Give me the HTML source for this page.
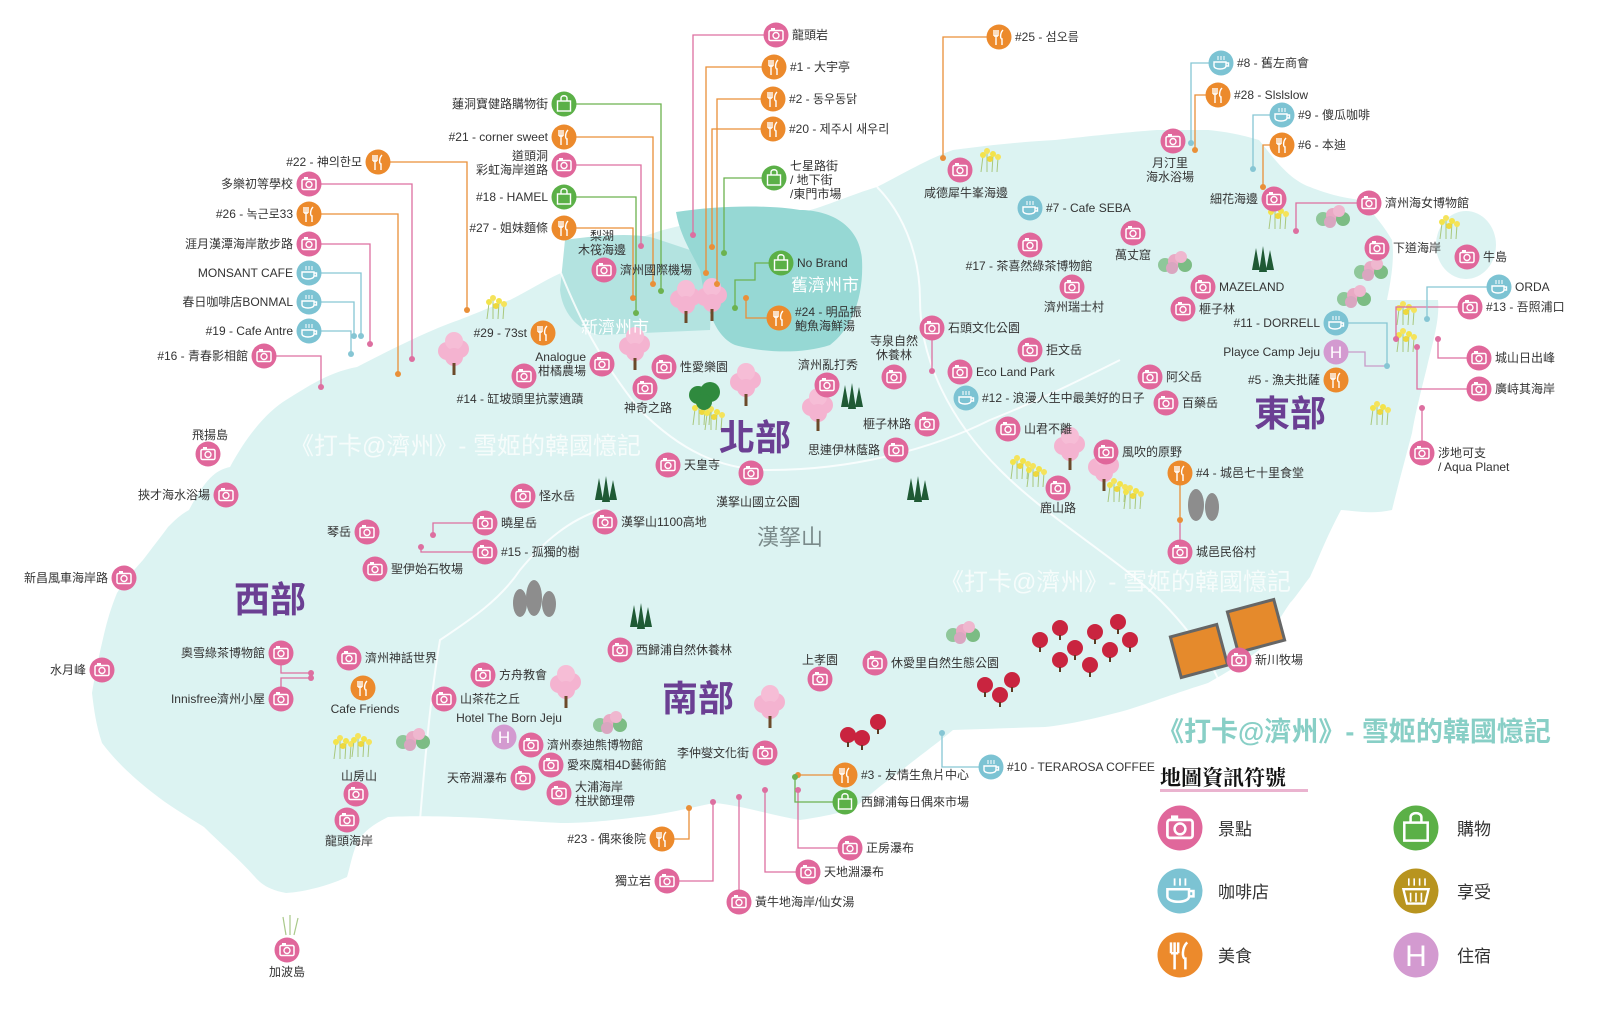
<!DOCTYPE html>
<html><head><meta charset="utf-8"><style>
html,body{margin:0;padding:0;background:#fff;}
svg{display:block;}
text{font-family:"Liberation Sans","Noto Sans CJK TC",sans-serif;font-size:12px;fill:#333;}
.L{text-anchor:end}.M{text-anchor:middle}
.ln{fill:none;stroke-width:1.3}
.p{stroke:#dd6fa0}.o{stroke:#e98f38}.g{stroke:#6cb24f}.b{stroke:#86c6d4}.h{stroke:#c89ac8}
.reg{font-size:36px;fill:#6b3f93;font-weight:bold;text-anchor:middle}
.wm{font-size:24px;fill:#fff;opacity:.75}
</style></head><body>
<svg width="1600" height="1020" viewBox="0 0 1600 1020" xmlns="http://www.w3.org/2000/svg">
<defs>
<g id="cam"><circle r="12.5" fill="#e0679b"/><rect x="-7" y="-4.5" width="14" height="10" rx="1.5" fill="none" stroke="#fff" stroke-width="1.5"/><circle cy="0.5" r="3" fill="none" stroke="#fff" stroke-width="1.4"/><rect x="-5" y="-7" width="4" height="2.5" fill="#fff"/></g>
<g id="food"><circle r="12.5" fill="#ec8a2c"/><path d="M-5,-7V-1M-3,-7V-1M-1,-7V-1M-5,-1H-1M-3,-1V8M4,-7C1,-4 1,2 3,2V8" stroke="#fff" stroke-width="1.4" fill="none"/></g>
<g id="cof"><circle r="12.5" fill="#7cc3d3"/><path d="M-7,-1H5V3C5,7 -7,7 -7,3Z M5,0H7.5V3H5" fill="none" stroke="#fff" stroke-width="1.4"/><path d="M-3,-7v4M0,-7v4M3,-7v4" stroke="#fff" stroke-width="1"/></g>
<g id="shop"><circle r="12.5" fill="#5bb047"/><rect x="-6.5" y="-3" width="13" height="10" fill="none" stroke="#fff" stroke-width="1.4"/><path d="M-3,-3V-6C-3,-9 3,-9 3,-6V-3" fill="none" stroke="#fff" stroke-width="1.4"/></g>
<g id="ptree"><circle cx="-7" cy="-4" r="9" fill="#f4b3d0"/><circle cx="6" cy="-6" r="9" fill="#f4b3d0"/><circle cx="0" cy="-14" r="9" fill="#f6bdd6"/><circle cx="0" cy="2" r="9" fill="#f4b3d0"/><rect x="-1.5" y="8" width="3" height="12" fill="#6b4a2a"/></g>
<g id="yflw"><path d="M-8,12L-6,-4M-2,12L-2,-8M3,12L4,-5M8,12L9,-2" stroke="#a8c77c" stroke-width="1"/><circle cx="-6" cy="-5" r="3" fill="#f3e34a"/><circle cx="-2" cy="-9" r="3" fill="#f5e35b"/><circle cx="4" cy="-6" r="3" fill="#f3e34a"/><circle cx="9" cy="-3" r="3" fill="#f5e35b"/><circle cx="1" cy="-1" r="3" fill="#eed83d"/></g>
<g id="pine"><path d="M-10,10L-6,-12L-2,10Z M-3,12L1,-14L5,12Z M4,10L8,-10L12,10Z" fill="#1f5a35"/></g>
<g id="hyd"><circle cx="-10" cy="2" r="7" fill="#8fc79a"/><circle cx="0" cy="-2" r="7" fill="#e9a9c4"/><circle cx="10" cy="2" r="7" fill="#7cbc84"/><circle cx="-3" cy="5" r="6" fill="#d9a6c0"/><circle cx="6" cy="-6" r="6" fill="#efb7cf"/></g>
<g id="rtree"><circle r="8" fill="#c9243f"/><rect x="-1" y="7" width="2" height="5" fill="#5a3b22"/></g>
</defs>

<!-- island -->
<path d="M189,510 C205,480 215,470 230,467 C250,430 270,410 286,400 C310,385 330,372 357,367 C400,345 430,330 459,320 C485,310 500,303 510,300 C530,290 545,280 561,273 C600,255 630,240 663,230 C710,218 760,210 800,213 C830,205 850,195 877,187 C910,170 930,158 953,150 C990,145 1020,142 1055,140 C1100,135 1130,132 1157,130 L1208,130 C1230,132 1245,136 1259,140 C1275,160 1290,180 1310,187 C1330,195 1345,198 1361,200 C1375,215 1385,228 1392,240 C1395,260 1390,285 1387,300 L1438,300 C1440,320 1432,345 1427,367 C1420,395 1415,415 1412,433 C1405,460 1398,485 1392,510 C1370,515 1350,510 1341,510 C1325,540 1318,560 1310,577 C1300,590 1295,598 1290,603 C1275,625 1268,640 1259,650 C1240,665 1222,675 1208,683 C1170,695 1150,703 1127,710 C1090,720 1065,725 1045,727 C1010,728 980,729 953,730 C935,745 918,757 902,770 C880,785 865,800 851,810 C830,815 815,818 800,820 C770,815 740,805 714,803 C680,810 660,815 638,817 C600,822 580,823 561,823 C520,821 490,818 459,817 C430,816 405,816 388,817 C372,825 362,833 357,843 C352,855 350,867 347,877 C330,885 305,892 286,893 C270,890 262,885 255,877 C238,858 220,843 204,827 C185,815 168,805 153,793 C130,775 115,760 102,743 C96,725 94,710 92,693 C95,675 98,660 102,643 C106,625 110,610 117,593 C125,580 134,570 143,560 C152,548 160,538 168,527 C175,520 180,515 189,510Z" fill="#dcf3f2"/>
<ellipse cx="1466" cy="245" rx="30" ry="34" fill="#dcf3f2"/>
<!-- city areas -->
<path d="M565,240 C600,235 640,232 660,240 L690,250 C705,270 712,300 710,330 L600,335 C575,330 562,310 560,290Z" fill="#b3e3e0"/>
<path d="M676,212 C720,205 770,205 800,210 C830,210 860,225 862,260 C864,300 850,330 830,345 C800,355 760,352 735,345 C712,335 705,300 700,270 C690,250 680,235 676,212Z" fill="#96d8d4"/>
<!-- roads -->
<path d="M561,273 C580,320 600,360 640,410 C680,450 720,470 770,470 C850,470 930,450 990,420 C1040,400 1080,380 1120,360" fill="none" stroke="#fff" stroke-width="2" opacity=".8"/>
<path d="M877,187 C900,210 920,250 920,300 C920,360 950,420 1000,470 C1050,520 1120,560 1160,600 C1190,630 1210,660 1220,683" fill="none" stroke="#fff" stroke-width="2" opacity=".8"/>
<path d="M420,820 C425,760 430,700 440,640 C470,620 500,600 520,570 C545,540 570,520 600,510" fill="none" stroke="#fff" stroke-width="2" opacity=".8"/>

<!-- decorations -->
<use href="#ptree" x="454" y="355"/><use href="#ptree" x="686" y="303"/><use href="#ptree" x="712" y="301"/><use href="#ptree" x="635" y="350"/><use href="#ptree" x="746" y="386"/><use href="#ptree" x="818" y="411"/><use href="#ptree" x="1070" y="450"/><use href="#ptree" x="1104" y="471"/><use href="#ptree" x="566" y="688"/><use href="#ptree" x="770" y="708"/>
<use href="#yflw" x="495" y="307"/><use href="#yflw" x="701" y="413"/><use href="#yflw" x="713" y="418"/><use href="#yflw" x="989" y="160"/><use href="#yflw" x="1277" y="217"/><use href="#yflw" x="1448" y="227"/><use href="#yflw" x="1405" y="313"/><use href="#yflw" x="1405" y="340"/><use href="#yflw" x="1379" y="413"/><use href="#yflw" x="1019" y="467"/><use href="#yflw" x="1035" y="475"/><use href="#yflw" x="1116" y="490"/><use href="#yflw" x="1132" y="497"/><use href="#yflw" x="342" y="747"/><use href="#yflw" x="360" y="745"/>
<g fill="#2f8a3e"><circle cx="698" cy="395" r="9"/><circle cx="710" cy="392" r="10"/><circle cx="704" cy="402" r="8"/></g>
<use href="#pine" x="605" y="490"/><use href="#pine" x="851" y="397"/><use href="#pine" x="1262" y="260"/><use href="#pine" x="917" y="490"/><use href="#pine" x="640" y="617"/>
<use href="#hyd" x="1333" y="217"/><use href="#hyd" x="1175" y="263"/><use href="#hyd" x="1371" y="270"/><use href="#hyd" x="1354" y="297"/><use href="#hyd" x="413" y="740"/><use href="#hyd" x="610" y="723"/><use href="#hyd" x="963" y="633"/>
<use href="#rtree" x="1040" y="640"/><use href="#rtree" x="1060" y="628"/><use href="#rtree" x="1075" y="648"/><use href="#rtree" x="1095" y="632"/><use href="#rtree" x="1110" y="650"/><use href="#rtree" x="1118" y="622"/><use href="#rtree" x="1090" y="665"/><use href="#rtree" x="1060" y="660"/><use href="#rtree" x="1130" y="640"/><use href="#rtree" x="985" y="685"/><use href="#rtree" x="1000" y="695"/><use href="#rtree" x="1012" y="680"/><use href="#rtree" x="848" y="735"/><use href="#rtree" x="862" y="738"/><use href="#rtree" x="878" y="722"/>
<rect x="1175" y="630" width="48" height="42" fill="#e58a2c" stroke="#666" stroke-width="3" transform="rotate(-15 1199 651)"/>
<rect x="1232" y="605" width="48" height="42" fill="#e58a2c" stroke="#666" stroke-width="3" transform="rotate(-15 1256 626)"/>
<g fill="#8d8d8d"><ellipse cx="520" cy="603" rx="7" ry="14"/><ellipse cx="534" cy="598" rx="8" ry="18"/><ellipse cx="549" cy="604" rx="7" ry="13"/><ellipse cx="1196" cy="505" rx="8" ry="16"/><ellipse cx="1212" cy="507" rx="7" ry="14"/></g>
<path d="M286,935 l-3,-18 M290,935 l0,-20 M294,935 l4,-17" stroke="#a9c98a" stroke-width="1.2"/>

<!-- watermarks & region labels -->
<text x="290" y="454" class="wm">《打卡@濟州》- 雪姬的韓國憶記</text>
<text x="940" y="590" class="wm">《打卡@濟州》- 雪姬的韓國憶記</text>
<text x="615" y="333" class="M" style="font-size:17px;fill:#fff">新濟州市</text>
<text x="825" y="291" class="M" style="font-size:17px;fill:#fff">舊濟州市</text>
<text x="755" y="450" class="reg">北部</text>
<text x="1290" y="426" class="reg">東部</text>
<text x="270" y="612" class="reg">西部</text>
<text x="698" y="711" class="reg">南部</text>
<text x="790" y="545" class="M" style="font-size:22px;fill:#7a8a8a">漢拏山</text>

<!-- connectors -->
<g class="ln p"><path d="M764,35H693V235"/><path d="M576,165H641V246"/><path d="M321,184H412V359"/><path d="M321,244H370V344"/><path d="M276,356H321V387"/><path d="M1357,203H1296V231"/><path d="M1458,307H1396V339"/><path d="M1467,358H1438V339"/><path d="M1467,389H1417V347"/><path d="M1422,441V408"/><path d="M932,340V371"/><path d="M1180,540V520"/><path d="M473,523H433V535"/><path d="M473,552H421V547"/><path d="M281,665V673H311"/><path d="M281,687V678H311"/><path d="M679,881H713V802"/><path d="M739,890V797"/><path d="M796,872H765V790"/><path d="M838,848H798V790"/></g>
<g class="ln o"><path d="M762,67H706V273"/><path d="M761,99H717V284"/><path d="M761,129H712V247"/><path d="M576,137H653V284"/><path d="M576,228H633V298"/><path d="M390,162H467V310"/><path d="M321,214H398V374"/><path d="M767,318H746V298"/><path d="M987,37H943V158"/><path d="M1206,95H1195V150"/><path d="M1270,145H1263V187"/><path d="M1180,485V520"/><path d="M674,839H689V808"/><path d="M833,775H798"/></g>
<g class="ln g"><path d="M762,178H724V253"/><path d="M576,104H661V291"/><path d="M576,197H636V313"/><path d="M769,263H755V280H735V308"/><path d="M833,802H795V777"/></g>
<g class="ln b"><path d="M321,273H361V336"/><path d="M321,302H354V336"/><path d="M321,331H351V354"/><path d="M1209,63H1191V143"/><path d="M1270,115H1253V169"/><path d="M1487,287H1427V319"/><path d="M1348,323H1387V366"/><path d="M979,767H942V733"/></g>
<path class="ln h" d="M1348,352H1365V366H1387"/>
<g fill="#dd6fa0"><circle cx="693" cy="235" r="3"/><circle cx="641" cy="246" r="3"/><circle cx="412" cy="359" r="3"/><circle cx="370" cy="344" r="3"/><circle cx="321" cy="387" r="3"/><circle cx="1296" cy="231" r="3"/><circle cx="1396" cy="339" r="3"/><circle cx="1438" cy="339" r="3"/><circle cx="1417" cy="347" r="3"/><circle cx="1422" cy="408" r="3"/><circle cx="932" cy="371" r="3"/><circle cx="433" cy="535" r="3"/><circle cx="421" cy="547" r="3"/><circle cx="311" cy="673" r="3"/><circle cx="311" cy="678" r="3"/><circle cx="713" cy="802" r="3"/><circle cx="739" cy="797" r="3"/><circle cx="765" cy="790" r="3"/><circle cx="798" cy="790" r="3"/></g>
<g fill="#e98f38"><circle cx="706" cy="273" r="3"/><circle cx="717" cy="284" r="3"/><circle cx="712" cy="247" r="3"/><circle cx="653" cy="284" r="3"/><circle cx="633" cy="298" r="3"/><circle cx="467" cy="310" r="3"/><circle cx="398" cy="374" r="3"/><circle cx="746" cy="298" r="3"/><circle cx="943" cy="158" r="3"/><circle cx="1195" cy="150" r="3"/><circle cx="1263" cy="187" r="3"/><circle cx="1180" cy="520" r="3"/><circle cx="689" cy="808" r="3"/><circle cx="798" cy="775" r="3"/></g>
<g fill="#6cb24f"><circle cx="724" cy="253" r="3"/><circle cx="661" cy="291" r="3"/><circle cx="636" cy="313" r="3"/><circle cx="735" cy="308" r="3"/><circle cx="795" cy="777" r="3"/></g>
<g fill="#86c6d4"><circle cx="361" cy="336" r="3"/><circle cx="354" cy="336" r="3"/><circle cx="351" cy="354" r="3"/><circle cx="1191" cy="143" r="3"/><circle cx="1253" cy="169" r="3"/><circle cx="1427" cy="319" r="3"/><circle cx="1387" cy="366" r="3"/><circle cx="942" cy="733" r="3"/></g>

<!-- camera icons -->
<g>
<use href="#cam" x="776" y="35"/><use href="#cam" x="564" y="165"/><use href="#cam" x="604" y="270"/><use href="#cam" x="309" y="184"/><use href="#cam" x="309" y="244"/><use href="#cam" x="264" y="356"/><use href="#cam" x="602" y="364"/><use href="#cam" x="524" y="376"/><use href="#cam" x="664" y="367"/><use href="#cam" x="645" y="388"/><use href="#cam" x="668" y="465"/><use href="#cam" x="751" y="473"/><use href="#cam" x="208" y="454"/><use href="#cam" x="226" y="495"/><use href="#cam" x="523" y="496"/>
<use href="#cam" x="1173" y="141"/><use href="#cam" x="960" y="170"/><use href="#cam" x="1274" y="199"/><use href="#cam" x="1369" y="203"/><use href="#cam" x="1133" y="233"/><use href="#cam" x="1030" y="245"/><use href="#cam" x="1377" y="248"/><use href="#cam" x="1467" y="257"/><use href="#cam" x="1072" y="287"/><use href="#cam" x="1203" y="287"/><use href="#cam" x="1183" y="309"/><use href="#cam" x="1470" y="307"/><use href="#cam" x="1479" y="358"/><use href="#cam" x="1479" y="389"/><use href="#cam" x="1422" y="453"/><use href="#cam" x="932" y="328"/><use href="#cam" x="894" y="377"/><use href="#cam" x="827" y="385"/><use href="#cam" x="1030" y="350"/><use href="#cam" x="960" y="372"/><use href="#cam" x="1150" y="377"/><use href="#cam" x="1166" y="403"/><use href="#cam" x="927" y="424"/><use href="#cam" x="896" y="450"/><use href="#cam" x="1008" y="429"/><use href="#cam" x="1106" y="452"/><use href="#cam" x="1058" y="488"/>
<use href="#cam" x="367" y="532"/><use href="#cam" x="485" y="523"/><use href="#cam" x="485" y="552"/><use href="#cam" x="605" y="522"/><use href="#cam" x="375" y="569"/><use href="#cam" x="124" y="578"/><use href="#cam" x="102" y="670"/><use href="#cam" x="281" y="653"/><use href="#cam" x="281" y="699"/><use href="#cam" x="349" y="658"/><use href="#cam" x="483" y="675"/><use href="#cam" x="444" y="699"/><use href="#cam" x="531" y="745"/><use href="#cam" x="551" y="765"/><use href="#cam" x="523" y="778"/><use href="#cam" x="559" y="793"/><use href="#cam" x="356" y="794"/><use href="#cam" x="347" y="820"/><use href="#cam" x="287" y="950"/><use href="#cam" x="620" y="650"/><use href="#cam" x="765" y="753"/><use href="#cam" x="667" y="881"/><use href="#cam" x="739" y="902"/>
<use href="#cam" x="1180" y="552"/><use href="#cam" x="820" y="679"/><use href="#cam" x="875" y="663"/><use href="#cam" x="1239" y="660"/><use href="#cam" x="850" y="848"/><use href="#cam" x="808" y="872"/>
</g>
<g>
<use href="#food" x="774" y="67"/><use href="#food" x="773" y="99"/><use href="#food" x="773" y="129"/><use href="#food" x="564" y="137"/><use href="#food" x="564" y="228"/><use href="#food" x="378" y="162"/><use href="#food" x="309" y="214"/><use href="#food" x="543" y="333"/><use href="#food" x="779" y="318"/><use href="#food" x="999" y="37"/><use href="#food" x="1218" y="95"/><use href="#food" x="1282" y="145"/><use href="#food" x="1336" y="380"/><use href="#food" x="1180" y="473"/><use href="#food" x="363" y="688"/><use href="#food" x="662" y="839"/><use href="#food" x="845" y="775"/>
<use href="#cof" x="309" y="273"/><use href="#cof" x="309" y="302"/><use href="#cof" x="309" y="331"/><use href="#cof" x="1221" y="63"/><use href="#cof" x="1282" y="115"/><use href="#cof" x="1030" y="208"/><use href="#cof" x="1499" y="287"/><use href="#cof" x="1336" y="323"/><use href="#cof" x="966" y="398"/><use href="#cof" x="991" y="767"/>
<use href="#shop" x="774" y="178"/><use href="#shop" x="564" y="104"/><use href="#shop" x="564" y="197"/><use href="#shop" x="781" y="263"/><use href="#shop" x="845" y="802"/>
<circle cx="1336" cy="352" r="12.5" fill="#d39ad0"/><text x="1336" y="358" class="M" style="fill:#fff;font-size:17px">H</text>
<circle cx="504" cy="737" r="12.5" fill="#d39ad0"/><text x="504" y="743" class="M" style="fill:#fff;font-size:17px">H</text>
</g>

<!-- labels right -->
<g>
<text x="792" y="39">龍頭岩</text><text x="790" y="71">#1 - 大宇亭</text><text x="789" y="103">#2 - 동우동닭</text><text x="789" y="133">#20 - 제주시  새우리</text>
<text x="790" y="170">七星路街</text><text x="790" y="184">/ 地下街</text><text x="790" y="198">/東門市場</text>
<text x="620" y="274">濟州國際機場</text><text x="680" y="371">性愛樂園</text><text x="684" y="469">天皇寺</text><text x="539" y="500">怪水岳</text>
<text x="797" y="267">No Brand</text><text x="795" y="316">#24 - 明品振</text><text x="795" y="330">鮑魚海鮮湯</text>
<text x="1015" y="41">#25 - 섬오름</text><text x="1237" y="67">#8 - 舊左商會</text><text x="1234" y="99">#28 - Slslslow</text><text x="1298" y="119">#9 - 傻瓜咖啡</text><text x="1298" y="149">#6 - 本迪</text>
<text x="1385" y="207">濟州海女博物館</text><text x="1046" y="212">#7 - Cafe SEBA</text><text x="1393" y="252">下道海岸</text><text x="1483" y="261">牛島</text><text x="1219" y="291">MAZELAND</text><text x="1199" y="313">榧子林</text><text x="1515" y="291">ORDA</text><text x="1486" y="311">#13 - 吾照浦口</text><text x="1495" y="362">城山日出峰</text><text x="1495" y="393">廣峙其海岸</text>
<text x="1438" y="457">涉地可支</text><text x="1438" y="471">/ Aqua Planet</text>
<text x="948" y="332">石頭文化公園</text><text x="1046" y="354">拒文岳</text><text x="976" y="376">Eco Land Park</text><text x="1166" y="381">阿父岳</text><text x="982" y="402">#12 - 浪漫人生中最美好的日子</text><text x="1182" y="407">百藥岳</text><text x="1024" y="433">山君不離</text><text x="1122" y="456">風吹的原野</text><text x="1196" y="477">#4 - 城邑七十里食堂</text>
<text x="501" y="527">曉星岳</text><text x="501" y="556">#15 - 孤獨的樹</text><text x="621" y="526">漢拏山1100高地</text><text x="391" y="573">聖伊始石牧場</text>
<text x="365" y="662">濟州神話世界</text><text x="499" y="679">方舟教會</text><text x="460" y="703">山茶花之丘</text><text x="547" y="749">濟州泰迪熊博物館</text><text x="567" y="769">愛來魔相4D藝術館</text><text x="575" y="791">大浦海岸</text><text x="575" y="805">柱狀節理帶</text>
<text x="636" y="654">西歸浦自然休養林</text><text x="755" y="906">黃牛地海岸/仙女湯</text>
<text x="1196" y="556">城邑民俗村</text><text x="891" y="667">休愛里自然生態公園</text><text x="1255" y="664">新川牧場</text><text x="861" y="779">#3 - 友情生魚片中心</text><text x="861" y="806">西歸浦每日偶來市場</text><text x="866" y="852">正房瀑布</text><text x="824" y="876">天地淵瀑布</text><text x="1007" y="771">#10 - TERAROSA COFFEE</text>
</g>
<!-- labels left -->
<g class="L">
<text x="548" y="108">蓮洞寶健路購物街</text><text x="548" y="141">#21 - corner sweet</text><text x="548" y="160">道頭洞</text><text x="548" y="174">彩虹海岸道路</text><text x="548" y="201">#18 - HAMEL</text><text x="548" y="232">#27 - 姐妹麵條</text>
<text x="362" y="166">#22 - 神의한모</text><text x="293" y="188">多樂初等學校</text><text x="293" y="218">#26 - 녹근로33</text><text x="293" y="248">涯月漢潭海岸散步路</text><text x="293" y="277">MONSANT CAFE</text><text x="293" y="306">春日咖啡店BONMAL</text><text x="293" y="335">#19 - Cafe Antre</text><text x="248" y="360">#16 - 青春影相館</text>
<text x="527" y="337">#29 - 73st</text><text x="586" y="361">Analogue</text><text x="586" y="375">柑橘農場</text><text x="210" y="499">挾才海水浴場</text>
<text x="1258" y="203">細花海邊</text><text x="1320" y="327">#11 - DORRELL</text><text x="1320" y="356">Playce Camp Jeju</text><text x="1320" y="384">#5 - 漁夫批薩</text><text x="911" y="428">榧子林路</text><text x="880" y="454">思連伊林蔭路</text>
<text x="351" y="536">琴岳</text><text x="108" y="582">新昌風車海岸路</text><text x="86" y="674">水月峰</text><text x="265" y="657">奧雪綠茶博物館</text><text x="265" y="703">Innisfree濟州小屋</text><text x="507" y="782">天帝淵瀑布</text><text x="749" y="757">李仲燮文化街</text><text x="646" y="843">#23 - 偶來後院</text><text x="651" y="885">獨立岩</text>
</g>
<!-- labels centered -->
<g class="M">
<text x="602" y="240">梨湖</text><text x="602" y="254">木筏海邊</text><text x="520" y="403">#14 - 缸坡頭里抗蒙遺蹟</text><text x="648" y="412">神奇之路</text><text x="758" y="506">漢拏山國立公園</text><text x="210" y="439">飛揚島</text>
<text x="1170" y="167">月汀里</text><text x="1170" y="181">海水浴場</text><text x="966" y="197">咸德犀牛峯海邊</text><text x="1133" y="259">萬丈窟</text><text x="1029" y="270">#17 - 茶喜然綠茶博物館</text><text x="1074" y="311">濟州瑞士村</text>
<text x="894" y="345">寺泉自然</text><text x="894" y="359">休養林</text><text x="828" y="369">濟州亂打秀</text><text x="1058" y="512">鹿山路</text>
<text x="365" y="713">Cafe Friends</text><text x="509" y="722">Hotel The Born Jeju</text><text x="359" y="780">山房山</text><text x="349" y="845">龍頭海岸</text><text x="287" y="976">加波島</text><text x="820" y="664">上孝園</text>
</g>

<!-- title & legend -->
<text x="1157" y="741" style="font-size:27px;font-weight:bold;fill:#88cfc6">《打卡@濟州》- 雪姬的韓國憶記</text>
<text x="1160" y="785" style="font-family:'Liberation Serif','Noto Serif CJK SC',serif;font-size:21px;font-weight:bold;fill:#111">地圖資訊符號</text>
<rect x="1160" y="789" width="148" height="3" fill="#eab3cf"/>
<g transform="translate(1180,828) scale(1.8)"><use href="#cam"/></g><text x="1218" y="835" style="font-size:17px">景點</text>
<g transform="translate(1416,828) scale(1.8)"><use href="#shop"/></g><text x="1457" y="835" style="font-size:17px">購物</text>
<g transform="translate(1180,891) scale(1.8)"><use href="#cof"/></g><text x="1218" y="898" style="font-size:17px">咖啡店</text>
<g transform="translate(1416,891) scale(1.8)"><circle r="12.5" fill="#b8941f"/><path d="M-7,-1H7L5,7H-5Z" fill="none" stroke="#fff" stroke-width="1.3"/><path d="M-4,-7v4M-1,-7v4M2,-7v4M5,-7v4M-3,1v5M0,1v5M3,1v5" stroke="#fff" stroke-width="0.9"/></g><text x="1457" y="898" style="font-size:17px">享受</text>
<g transform="translate(1180,955) scale(1.8)"><use href="#food"/></g><text x="1218" y="962" style="font-size:17px">美食</text>
<circle cx="1416" cy="955" r="22.5" fill="#d39ad0"/><text x="1416" y="966" class="M" style="fill:#fff;font-size:30px">H</text><text x="1457" y="962" style="font-size:17px">住宿</text>
</svg>
</body></html>
